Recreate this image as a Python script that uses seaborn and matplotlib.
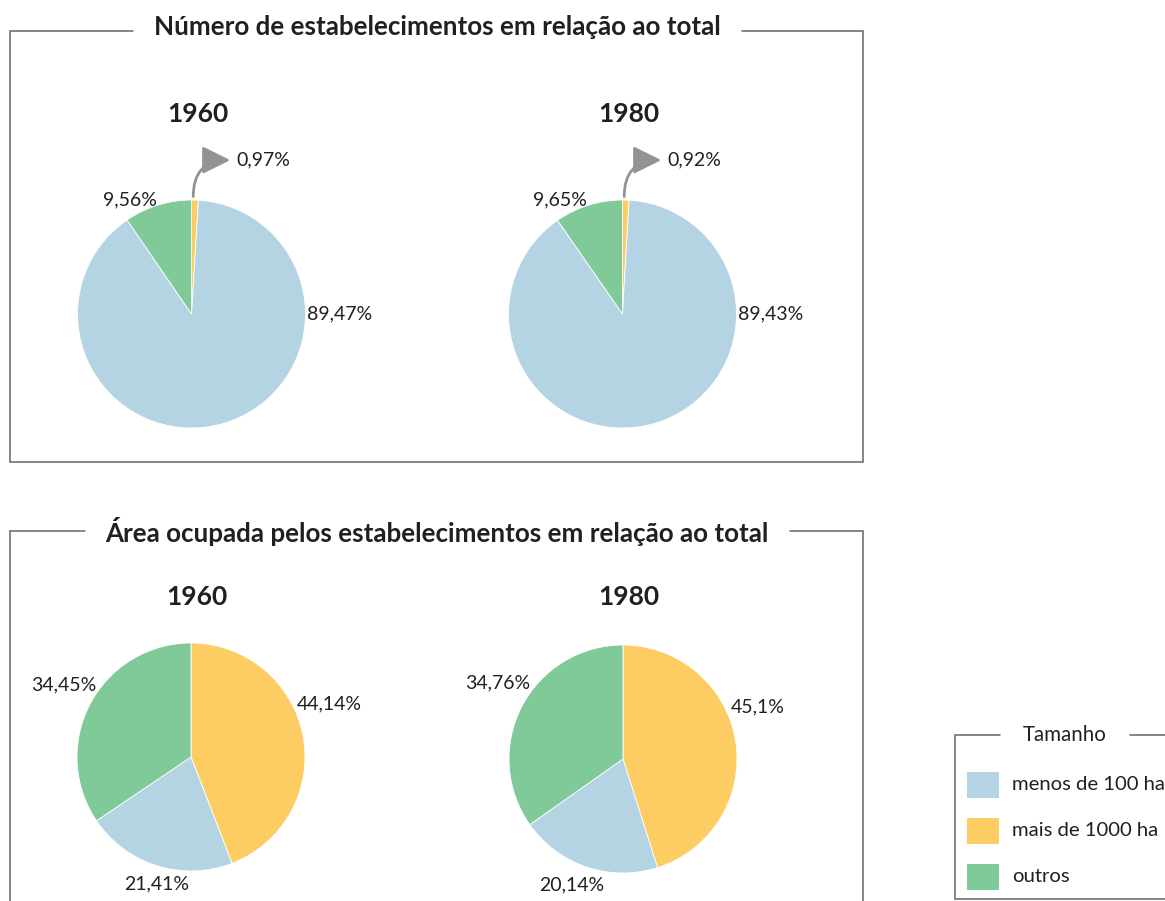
import matplotlib
matplotlib.use("Agg")
import matplotlib.pyplot as plt
from matplotlib.lines import Line2D
from matplotlib.patches import FancyArrowPatch, Rectangle
import seaborn as sns

# data
anos = ["1960", "1980"]
categorias = ["mais de 1000 ha", "menos de 100 ha", "outros"]
num_1960 = [0.97, 89.47, 9.56]
num_1980 = [0.92, 89.43, 9.65]
area_1960 = [44.14, 21.41, 34.45]
area_1980 = [45.1, 20.14, 34.76]
legenda_ordem = ["menos de 100 ha", "mais de 1000 ha", "outros"]

titulo_num = "Número de estabelecimentos em relação ao total"
titulo_area = "Área ocupada pelos estabelecimentos em relação ao total"

sns.set_theme(style="white")
plt.rcParams["font.family"] = ["Lato", "DejaVu Sans"]

cores = dict(zip(categorias, sns.color_palette(["#FDCD64", "#B5D4E3", "#80CA9A"])))
cinza = "#666666"
texto = "#231F20"

W, H = 1165, 901
fig = plt.figure(figsize=(W / 100, H / 100), dpi=100)


def fx(px):
    return px / W


def fy(py):
    return 1 - py / H


def linha(pts):
    xs = [fx(p[0]) for p in pts]
    ys = [fy(p[1]) for p in pts]
    fig.add_artist(Line2D(xs, ys, transform=fig.transFigure, color=cinza, lw=1.1,
                          solid_joinstyle="miter"))


def fmt(v):
    return format(v, "g").replace(".", ",") + "%"


def pizza(cx, cy, r, valores, ano, ano_y, pos_rot, seta=False):
    s = 1.6
    ax = fig.add_axes([fx(cx - s * r), fy(cy + s * r), 2 * s * r / W, 2 * s * r / H])
    ax.pie(valores, colors=[cores[c] for c in categorias], startangle=90,
           counterclock=False, radius=1,
           wedgeprops=dict(linewidth=0.6, edgecolor="white"))
    ax.set_xlim(-s, s)
    ax.set_ylim(-s, s)
    ax.set_aspect("auto")
    ax.axis("off")
    for v, (x, y) in zip(valores, pos_rot):
        ax.text(x, y, fmt(v), ha="center", va="center", fontsize=14, color=texto,
                clip_on=False)
    fig.text(fx(cx + 6), fy(ano_y), ano, ha="center", va="center", fontsize=19,
             fontweight="bold", color=texto)
    if seta:
        arr = FancyArrowPatch((0.015, 1.03), (0.34, 1.35),
                              connectionstyle="angle3,angleA=90,angleB=0",
                              arrowstyle="-|>,head_length=0.85,head_width=0.42",
                              mutation_scale=20, color="#939393", lw=2,
                              clip_on=False, shrinkA=0, shrinkB=0)
        ax.add_patch(arr)
    return ax


# label positions (in radius units from pie centre)
pos_num_60 = [(0.63, 1.35), (1.30, 0.0), (-0.54, 1.0)]
pos_num_80 = [(0.63, 1.35), (1.30, 0.0), (-0.55, 1.0)]
pos_area_60 = [(1.21, 0.47), (-0.30, -1.11), (-1.12, 0.63)]
pos_area_80 = [(1.18, 0.46), (-0.45, -1.10), (-1.10, 0.67)]

R = 114
pizza(191.5, 314, R, num_1960, anos[0], 114, pos_num_60, seta=True)
pizza(622.5, 314, R, num_1980, anos[1], 114, pos_num_80, seta=True)
pizza(191, 757, R, area_1960, anos[0], 597, pos_area_60)
pizza(623, 759, R, area_1980, anos[1], 597, pos_area_80)

# panel frames
linha([(133, 31), (10, 31), (10, 462), (863, 462), (863, 31), (742, 31)])
fig.text(fx(437), fy(27), titulo_num, ha="center", va="center", fontsize=18.7,
         fontweight="bold", color=texto)
linha([(85, 531), (10, 531), (10, 905)])
linha([(790, 531), (863, 531), (863, 905)])
fig.text(fx(437), fy(532), titulo_area, ha="center", va="center", fontsize=18.7,
         fontweight="bold", color=texto)

# legend box
linha([(1000, 735), (955, 735), (955, 899), (1170, 899)])
linha([(1130, 735), (1170, 735)])
fig.text(fx(1065), fy(735), "Tamanho", ha="center", va="center", fontsize=14.8,
         color=texto)
for i, nome in enumerate(legenda_ordem):
    y0 = 772 + i * 46
    fig.add_artist(Rectangle((fx(967), fy(y0 + 26)), 32 / W, 26 / H,
                             transform=fig.transFigure, color=cores[nome], lw=0))
    fig.text(fx(1012), fy(y0 + 13), nome, ha="left", va="center", fontsize=14.6,
             color=texto)

fig.savefig("out.png", dpi=100, facecolor="white")
